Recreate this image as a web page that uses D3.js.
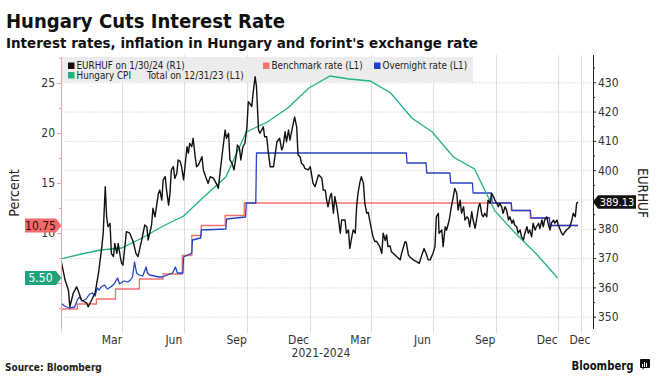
<!DOCTYPE html>
<html><head><meta charset="utf-8">
<script src="https://cdn.jsdelivr.net/npm/d3@7"></script>
<style>
html,body{margin:0;padding:0;background:#fff;}
svg{display:block;}
text{font-family:"DejaVu Sans Condensed","Liberation Sans Narrow","DejaVu Sans",sans-serif;}
</style></head><body>
<svg id="c" width="660" height="391"></svg>
<script>
// ---------- data ----------
const titleText = "Hungary Cuts Interest Rate";
const subtitleText = "Interest rates, inflation in Hungary and forint's exchange rate";

// EURHUF: [days since 2022-01-01, value]
const eurhuf = [[0,369.4],[6,362.5],[11,359],[13,353.4],[18,358],[23,360.2],[25,359],[30,355.7],[38,354.6],[40,353.4],[45,355.7],[50,358],[55,364.8],[60,373.9],[62,378.5],[65,394.4],[67,384.1],[69,380.7],[72,381.9],[74,371.6],[77,370.5],[79,375],[82,371.6],[84,375],[87,370.5],[89,368.2],[91,367.6],[96,379],[101,378.5],[106,375.6],[110,371.6],[113,370.5],[118,375.6],[123,381.3],[126,380.7],[128,376.2],[133,381.3],[135,387],[138,384.1],[143,392.1],[145,393.2],[148,389.8],[150,396.7],[153,397.8],[155,393.2],[158,388.1],[160,392.1],[162,400.1],[165,401.2],[167,397.2],[170,398.9],[172,403.5],[175,403],[177,401.2],[180,396.7],[185,408],[187,405.8],[189,409.2],[192,408],[194,410.9],[197,404.6],[199,401.2],[202,401.9],[207,404.6],[209,400.1],[214,396.7],[216,395.5],[219,397.8],[224,397.2],[229,395],[231,393.8],[234,400.1],[238,408],[241,413.7],[243,410.9],[246,412.6],[248,403.5],[251,402.4],[254,400.1],[257,404.6],[259,408.6],[262,407.5],[264,403.5],[267,408],[270,409.2],[273,414.8],[275,423.4],[277,422.8],[280,421.7],[282,426.2],[285,431.9],[287,428.5],[290,413.7],[292,412.6],[297,414.8],[299,411.4],[302,411.4],[304,406.9],[307,401.2],[309,401.2],[312,401.2],[317,409.7],[321,410.9],[324,406.9],[326,408],[329,413.1],[331,409.7],[334,413.7],[336,410.3],[340,414.8],[343,418.2],[346,414.8],[348,405.2],[351,404.6],[353,402.4],[356,401.8],[358,400.6],[363,400.1],[366,401.2],[370,395.5],[373,394.4],[378,398.4],[380,398],[383,397.2],[385,393.2],[388,393.2],[390,389.8],[392,387.5],[395,391],[397,392.1],[400,385.3],[402,391],[405,387.5],[407,384.1],[410,378.5],[412,383],[417,383],[419,378.5],[422,379.6],[424,373.3],[427,377.3],[429,379.6],[432,378.5],[434,387.5],[436,392.1],[439,396.1],[441,397.8],[444,395.5],[446,388.7],[449,385.3],[451,385.6],[454,381.9],[456,379.6],[458,377.3],[461,375.6],[463,375.8],[468,373.9],[471,371.6],[473,378.5],[476,376],[478,377.9],[480,373.9],[483,374.2],[485,372.2],[488,371.6],[493,370.5],[498,369.4],[500,371.6],[505,375.6],[507,375.3],[510,371.1],[512,370.5],[517,369.4],[522,368.8],[526,368.2],[529,370.5],[533,373.3],[536,371.6],[539,369.4],[542,369.4],[546,371.6],[549,373.9],[551,384.1],[554,385.3],[555,378.5],[559,379.6],[561,373.9],[564,380.7],[566,379.5],[570,383],[573,387.5],[576,391],[578,393.8],[581,392.1],[583,386.4],[586,389.8],[588,385.3],[591,387.5],[593,383],[596,384.1],[598,383.5],[600,380.7],[603,385.8],[605,383],[608,380.2],[610,383],[613,387.5],[615,388.7],[618,384.7],[620,384.1],[622,385.3],[625,384.1],[627,389.8],[630,388.7],[632,392.1],[635,391],[637,389.8],[640,388.7],[642,387.5],[644,388.7],[647,387.5],[649,385.3],[652,387.5],[654,386.5],[657,383],[659,384.1],[662,381.9],[664,383],[666,381.3],[669,380.7],[671,378.5],[674,379.6],[676,377.3],[679,376.2],[681,378.5],[684,380.7],[686,378.5],[688,379.6],[691,377.3],[693,381.9],[696,379.6],[698,380.7],[701,381.9],[703,380.1],[706,383],[708,380.7],[710,383],[713,384.1],[715,381.9],[718,379.6],[720,381.9],[723,383],[725,381.9],[728,383],[730,381.3],[732,380.2],[735,378.5],[737,377.9],[740,379],[742,379.6],[745,380.2],[747,380.7],[750,383],[752,385.3],[755,384.1],[757,388.7],[759,389.13]];

// Overnight rate: [days since 2022-01-01, value]
const overnight = [[0,3.0],[5,2.7],[12,2.5],[20,2.6],[24,3.3],[27,3.6],[31,3.2],[37,3.4],[42,3.9],[46,4.0],[50,3.7],[53,4.5],[56,4.3],[59,4.6],[64,4.8],[68,4.4],[73,4.6],[78,4.9],[83,5.5],[86,4.9],[88,5.0],[93,5.2],[98,5.1],[102,5.3],[105,5.6],[108,7.1],[111,6.0],[115,5.8],[120,5.7],[125,6.6],[127,6.0],[130,5.8],[137,5.7],[144,5.6],[149,5.6],[156,5.8],[164,6.0],[168,6.6],[171,6.0],[179,6.0],[180,7.6],[192,8.0],[193,9.3],[205,9.5],[206,10.3],[242,10.4],[243,11.4],[271,11.6],[272,13.0],[286,13.0],[287,18.0],[507,18.0],[508,17.0],[536,17.0],[537,16.0],[571,16.0],[572,15.0],[604,15.0],[605,14.0],[632,14.0],[633,13.0],[661,13.0],[662,12.25],[689,12.25],[690,11.5],[717,11.5],[718,10.75],[759,10.75]];

const benchmarkDates = ["2021-12-31","2022-01-25","2022-02-22","2022-03-22","2022-04-26","2022-05-31","2022-06-28","2022-07-12","2022-07-26","2022-08-30","2022-09-27","2023-10-24","2023-11-21","2023-12-19","2024-01-30"];
const benchmarkValues = [2.4,2.9,3.4,4.4,5.4,5.9,7.75,9.75,10.75,11.75,13,12.25,11.5,10.75,10.75];

const cpiDates = ["2021-12-31","2022-01-31","2022-02-28","2022-03-31","2022-04-30","2022-05-31","2022-06-30","2022-07-31","2022-08-31","2022-09-30","2022-10-31","2022-11-30","2022-12-31","2023-01-31","2023-02-28","2023-03-31","2023-04-30","2023-05-31","2023-06-30","2023-07-31","2023-08-31","2023-09-30","2023-10-31","2023-11-30","2023-12-31"];
const cpiValues = [7.4,7.9,8.3,8.5,9.5,10.7,11.7,13.7,15.6,20.1,21.1,22.5,24.5,25.7,25.4,25.2,24.0,21.5,20.1,17.6,16.4,12.2,9.9,7.9,5.5];

const leftTicks = [5,10,15,20,25];
const leftTickLabels = ["","10","15","20","25"];      // "5" sits under the 5.50 tag
const leftMinor = [2.5,7.5,12.5,17.5,22.5,27.5];
const rightTicks = [350,360,370,380,390,400,410,420,430];
const rightTickLabels = ["350","360","370","380","","400","410","420","430"]; // 390 sits under the tag
const rightMinor = [355,365,375,385,395,405,415,425,435];
const xTickDates = ["2022-04-01","2022-07-01","2022-10-01","2023-01-01","2023-04-01","2023-07-01","2023-10-01","2024-01-01","2024-02-04"];
const xLabelDates = ["2022-03-16","2022-06-15","2022-09-15","2022-12-15","2023-03-16","2023-06-15","2023-09-15","2023-12-15","2024-02-01"];
const xLabels = ["Mar","Jun","Sep","Dec","Mar","Jun","Sep","Dec","Dec"];

const lastBenchmark = "10.75", lastCPI = "5.50", lastEURHUF = "389.13";

// ---------- chart ----------
const parse = d3.utcParse("%Y-%m-%d");
const dayBase = Date.UTC(2022,0,1);
const fromDay = d => d3.utcDay.offset(new Date(dayBase), d);

const svg = d3.select("#c");
const x = d3.scaleUtc().domain([parse("2021-12-31"), parse("2024-02-21")]).range([60.3, 593]);
const yL = d3.scaleLinear().domain([0,25]).range([333,83]);
const yR = d3.scaleLinear().domain([350,430]).range([316.7,82.3]);

const C = {black:"#111", cpi:"#22b08a", red:"#f27272", blue:"#2443c4", grid:"#e1e1e1", pink:"#f2a5a5"};

// title
svg.append("text").attr("x",6).attr("y",28).attr("font-size",19.5).attr("font-weight","bold")
  .attr("fill","#111").attr("textLength",279).attr("lengthAdjust","spacingAndGlyphs").text(titleText);
svg.append("text").attr("x",6).attr("y",47.5).attr("font-size",14.5).attr("font-weight","bold")
  .attr("fill","#111").attr("textLength",472).attr("lengthAdjust","spacingAndGlyphs").text(subtitleText);

// gridlines
const g = svg.append("g");
g.selectAll("line.h").data(rightTicks).join("line")
  .attr("x1",61).attr("x2",593).attr("y1",d=>yR(d)+0.5).attr("y2",d=>yR(d)+0.5)
  .attr("stroke",C.grid).attr("stroke-dasharray","2,1");
g.selectAll("line.v").data(xTickDates).join("line")
  .attr("x1",d=>Math.round(x(parse(d)))+0.5).attr("x2",d=>Math.round(x(parse(d)))+0.5)
  .attr("y1",55).attr("y2",333).attr("stroke","#dedede");
g.append("line").attr("x1",61.5).attr("x2",61.5).attr("y1",316).attr("y2",333).attr("stroke","#dedede");

// legend background
svg.append("rect").attr("x",62).attr("y",57).attr("width",411).attr("height",25).attr("fill","#ececec");
const leg = svg.append("g").attr("font-size",9.8).attr("fill","#222");
const legItems = [
  {x:68,y:62.5,c:C.black,t:"EURHUF on 1/30/24 (R1)"},
  {x:68,y:72,c:C.cpi,t:"Hungary CPI"},
  {x:263,y:62.5,c:C.red,t:"Benchmark rate (L1)"},
  {x:374,y:62.5,c:"#1f3fd0",t:"Overnight rate (L1)"}
];
legItems.forEach(it=>{
  leg.append("rect").attr("x",it.x).attr("y",it.y).attr("width",6.5).attr("height",6.5).attr("fill",it.c);
  leg.append("text").attr("x",it.x+8.5).attr("y",it.y+6.8).text(it.t);
});
leg.append("text").attr("x",147).attr("y",78.8).text("Total on 12/31/23 (L1)");

// clip
svg.append("clipPath").attr("id","clip").append("rect").attr("x",61).attr("y",50).attr("width",532).attr("height",285);
const plot = svg.append("g").attr("clip-path","url(#clip)");

const redLine = d3.line().x(d=>x(d[0])).y(d=>yL(d[1])).curve(d3.curveStepAfter);
plot.append("path").datum(benchmarkDates.map((d,i)=>[parse(d),benchmarkValues[i]]))
  .attr("d",redLine).attr("fill","none").attr("stroke",C.red).attr("stroke-width",1.3);

const lineL = d3.line().x(d=>x(fromDay(d[0]))).y(d=>yL(d[1]));
plot.append("path").datum(overnight).attr("d",lineL).attr("fill","none")
  .attr("stroke",C.blue).attr("stroke-width",1.3).attr("stroke-linejoin","round");

const cpiLine = d3.line().x(d=>x(d[0])).y(d=>yL(d[1]));
plot.append("path").datum(cpiDates.map((d,i)=>[parse(d),cpiValues[i]]))
  .attr("d",cpiLine).attr("fill","none").attr("stroke",C.cpi).attr("stroke-width",1.3);

const lineR = d3.line().x(d=>x(fromDay(d[0]))).y(d=>yR(d[1]));
plot.append("path").datum(eurhuf).attr("d",lineR).attr("fill","none")
  .attr("stroke",C.black).attr("stroke-width",1.4).attr("stroke-linejoin","round");

// left axis
const la = svg.append("g").attr("transform","translate(61,0)");
la.call(d3.axisLeft(yL).tickValues(leftTicks).tickSize(4).tickPadding(2).tickFormat((d,i)=>leftTickLabels[i]));
la.select(".domain").remove();
la.selectAll(".tick line").attr("stroke",C.pink);
la.selectAll(".tick text").attr("font-size",12).attr("fill","#333").attr("font-family",null);
const lam = svg.append("g").attr("transform","translate(61,0)");
lam.call(d3.axisLeft(yL).tickValues(leftMinor).tickSize(2).tickFormat(""));
lam.select(".domain").remove();
lam.selectAll(".tick line").attr("stroke",C.pink);
svg.append("line").attr("x1",61.5).attr("x2",61.5).attr("y1",57).attr("y2",329).attr("stroke",C.pink);

// right axis
const ra = svg.append("g").attr("transform","translate(593,0)");
ra.call(d3.axisRight(yR).tickValues(rightTicks).tickSize(3).tickPadding(2).tickFormat((d,i)=>rightTickLabels[i]));
ra.select(".domain").remove();
ra.selectAll(".tick line").attr("stroke","#222");
ra.selectAll(".tick text").attr("font-size",12).attr("fill","#333").attr("font-family",null);
const ram = svg.append("g").attr("transform","translate(593,0)");
ram.call(d3.axisRight(yR).tickValues(rightMinor).tickSize(2).tickFormat(""));
ram.select(".domain").remove();
ram.selectAll(".tick line").attr("stroke","#222");
svg.append("line").attr("x1",593.5).attr("x2",593.5).attr("y1",55).attr("y2",329).attr("stroke","#222");

// bottom labels
const ba = svg.append("g").attr("transform","translate(0,333)");
ba.call(d3.axisBottom(x).tickValues(xLabelDates.map(parse)).tickSize(0).tickPadding(2)
  .tickFormat((d,i)=>xLabels[i]));
ba.select(".domain").remove();
ba.selectAll(".tick text").attr("font-size",12).attr("fill","#333").attr("font-family",null);
svg.append("text").attr("x",321).attr("y",356.5).attr("text-anchor","middle").attr("font-size",12).attr("fill","#333").text("2021-2024");

// axis titles
svg.append("text").attr("transform","translate(19,193) rotate(-90)").attr("text-anchor","middle")
  .attr("font-size",14).attr("fill","#222").text("Percent");
svg.append("text").attr("transform","translate(638,193) rotate(90)").attr("text-anchor","middle")
  .attr("font-size",13.5).attr("fill","#222").text("EURHUF");

// tags
function leftTag(v, fill, tc, label){
  const yc = yL(v);
  svg.append("path").attr("d",`M25,${yc-7}H56L61.5,${yc}L56,${yc+7}H25Z`).attr("fill",fill);
  svg.append("text").attr("x",40.5).attr("y",yc+4.3).attr("text-anchor","middle").attr("font-size",12)
    .attr("fill",tc).text(label);
}
leftTag(+lastBenchmark, "#f16b6b", "#3a0a0a", lastBenchmark);
leftTag(+lastCPI, "#1ea47c", "#fff", lastCPI);
{
  const yc = yR(+lastEURHUF);
  svg.append("path").attr("d",`M593,${yc}L598,${yc-6.8}H636V${yc+6.8}H598Z`).attr("fill","#111");
  svg.append("text").attr("x",617).attr("y",yc+4).attr("text-anchor","middle").attr("font-size",11)
    .attr("fill","#fff").text(lastEURHUF);
}

// footer
svg.append("text").attr("x",5).attr("y",371).attr("font-size",10).attr("font-weight","bold").attr("fill","#222").text("Source: Bloomberg");
svg.append("text").attr("x",571.5).attr("y",369.5).attr("font-size",13).attr("font-weight","bold")
  .attr("fill","#111").attr("font-family","Liberation Sans, Arial, sans-serif").attr("textLength",62).attr("lengthAdjust","spacingAndGlyphs").text("Bloomberg");
const lg = svg.append("g").attr("transform","translate(640,359)");
lg.append("path").attr("d","M1,0H9Q10,0 10,1V8Q10,9 9,9H4L2.5,11V9H1Q0,9 0,8V1Q0,0 1,0Z").attr("fill","#111");
[[2,5,1,3],[4,3,1,5],[6,4,1,4]].forEach(b=>lg.append("rect").attr("x",b[0]).attr("y",b[1]).attr("width",b[2]).attr("height",b[3]).attr("fill","#fff"));
</script>
</body></html>
